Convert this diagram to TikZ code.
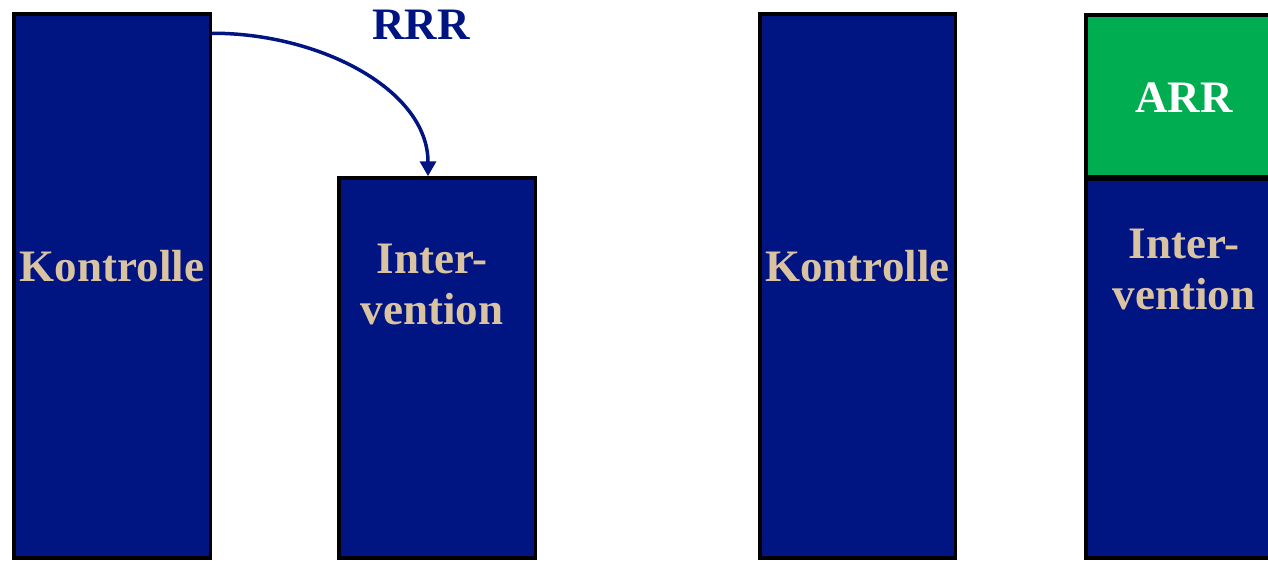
\documentclass[tikz,border=0pt]{standalone}
\usepackage{fontspec}
\setmainfont{Liberation Serif}
\usetikzlibrary{arrows.meta,calc}
\definecolor{barblue}{RGB}{0,20,130}
\definecolor{beige}{RGB}{217,195,160}
\definecolor{arrgreen}{RGB}{0,173,80}
\begin{document}
\begin{tikzpicture}[x=1pt,y=-1pt,
  bar/.style={draw=black,line width=3.5pt,fill=barblue,inner sep=0pt},
  greenbar/.style={draw=black,line width=3.5pt,fill=arrgreen,inner sep=0pt},
  lbl/.style={font=\bfseries\fontsize{45}{52}\selectfont,text=beige,anchor=base,inner sep=0pt},
  rrarrow/.style={draw=barblue,line width=3.5pt,-{Triangle[length=15pt,width=16pt]}}]
\useasboundingbox (0,0) rectangle (1268,560);
% bars
\node[bar,minimum width=196.5pt,minimum height=544pt] (k1) at (112,286) {};
\node[bar,minimum width=196.5pt,minimum height=380pt] (i1) at (437,368) {};
\node[bar,minimum width=195.5pt,minimum height=544pt] (k2) at (857.5,286) {};
\node[bar,minimum width=196.5pt,minimum height=378.5pt] (i2) at (1184,368.75) {};
\node[greenbar,minimum width=196.5pt,minimum height=162pt] (arr) at (1184,96) {};
% labels
\node[lbl] (k1t) at (112,281) {Kontrolle};
\node[lbl] (i1a) at (432,273) {Inter-};
\node[lbl] (i1b) at (432,324) {vention};
\node[lbl] (k2t) at (857.5,281) {Kontrolle};
\node[lbl] (i2a) at (1184,258) {Inter-};
\node[lbl] (i2b) at (1184,309) {vention};
\node[lbl,text=white] (arrt) at (1184,112) {ARR};
\node[lbl,text=barblue] (rrr) at (421,39) {RRR};
% arrow
\coordinate (as) at ($(k1.north east)+(0,21)$);
\coordinate (ae) at ($(i1.north)+(-9,0)$);
\draw[rrarrow] (as) .. controls (320,33) and (428,90) .. (ae);
\end{tikzpicture}
\end{document}
